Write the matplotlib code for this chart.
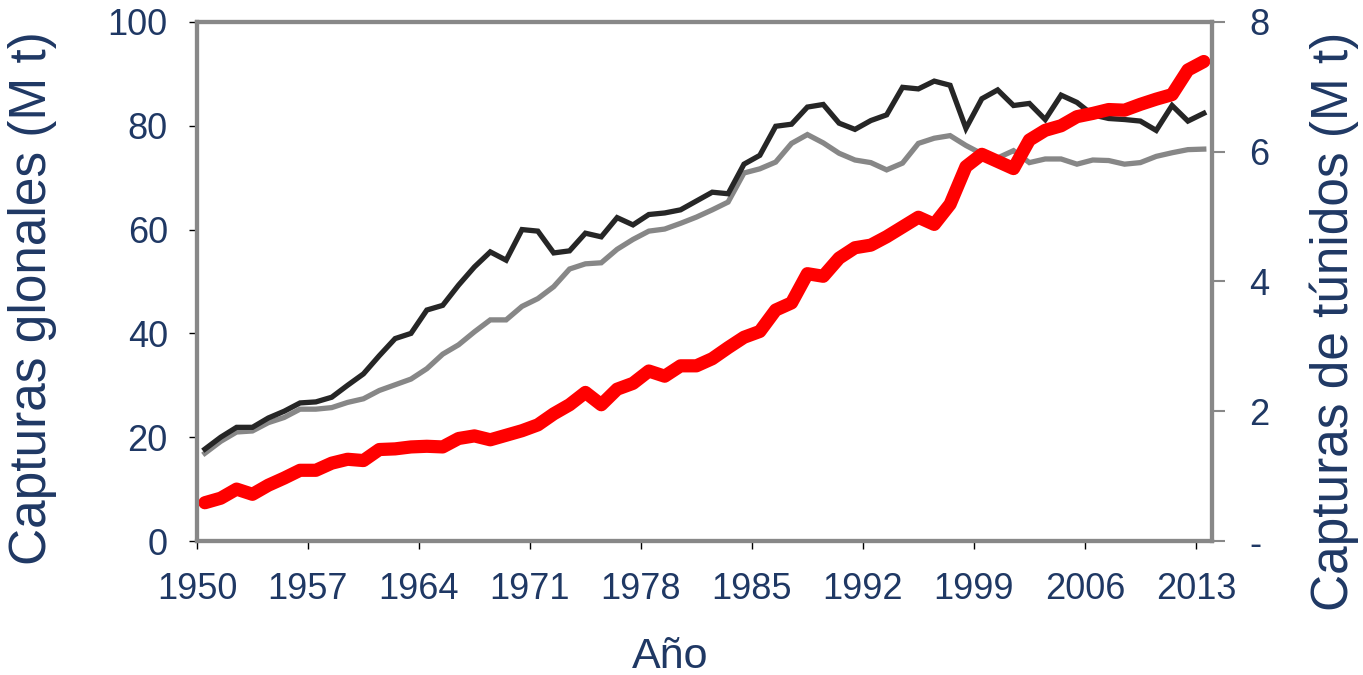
import matplotlib
matplotlib.use("Agg")
import matplotlib.pyplot as plt
import numpy as np

plt.rcParams['font.family'] = ['Liberation Sans', 'DejaVu Sans']

# data
years = np.arange(1950, 2014)

capturas_total = [17.7, 20.0, 21.9, 21.9, 23.7, 25.0, 26.6, 26.8, 27.7, 30.0,
                  32.2, 35.7, 39.0, 40.0, 44.5, 45.4, 49.3, 52.8, 55.7, 54.1,
                  60.0, 59.7, 55.5, 55.9, 59.3, 58.6, 62.3, 60.9, 62.9, 63.2,
                  63.8, 65.5, 67.2, 66.9, 72.6, 74.3, 79.9, 80.3, 83.6, 84.1,
                  80.5, 79.3, 81.0, 82.1, 87.4, 87.1, 88.6, 87.8, 79.5, 85.2,
                  86.9, 83.9, 84.3, 81.2, 85.9, 84.5, 82.1, 81.4, 81.2, 80.9,
                  79.1, 83.9, 80.9, 82.4]

capturas_marinas = [16.9, 19.2, 21.0, 21.2, 22.8, 23.8, 25.4, 25.4, 25.7, 26.7,
                    27.4, 29.0, 30.1, 31.2, 33.2, 36.0, 37.8, 40.3, 42.6, 42.6,
                    45.2, 46.7, 49.0, 52.4, 53.4, 53.6, 56.2, 58.1, 59.7, 60.1,
                    61.2, 62.4, 63.8, 65.3, 70.9, 71.7, 73.0, 76.6, 78.3, 76.7,
                    74.7, 73.4, 72.9, 71.5, 72.8, 76.6, 77.6, 78.1, 76.2, 74.6,
                    73.8, 75.2, 72.9, 73.6, 73.6, 72.6, 73.4, 73.3, 72.6, 72.9,
                    74.1, 74.8, 75.4, 75.5]

capturas_tunidos = [0.59, 0.66, 0.80, 0.72, 0.86, 0.97, 1.09, 1.09, 1.20, 1.26,
                    1.24, 1.41, 1.42, 1.45, 1.46, 1.45, 1.58, 1.62, 1.56, 1.63,
                    1.70, 1.79, 1.96, 2.10, 2.29, 2.10, 2.34, 2.43, 2.62, 2.54,
                    2.70, 2.70, 2.81, 2.98, 3.14, 3.23, 3.56, 3.67, 4.12, 4.08,
                    4.36, 4.52, 4.56, 4.69, 4.84, 4.99, 4.88, 5.19, 5.77, 5.96,
                    5.85, 5.74, 6.18, 6.33, 6.40, 6.54, 6.59, 6.65, 6.64, 6.73,
                    6.81, 6.88, 7.26, 7.39]

tick_years = np.arange(1950, 2014, 7)
left_ticks = [0, 20, 40, 60, 80, 100]
right_ticks = [0, 2, 4, 6, 8]
right_labels = ['-', '2', '4', '6', '8']

navy = '#1f3864'
frame = '#888888'

fig = plt.figure(figsize=(13.63, 6.75), dpi=100)
ax = fig.add_axes([0.1445, 0.1985, 0.7445, 0.769])
ax2 = ax.twinx()

x = years + 0.5  # points sit in the middle of each year's slot
ax.plot(x, capturas_marinas, color='#878787', lw=3.8, solid_joinstyle='miter')
ax.plot(x, capturas_total, color='#262626', lw=3.8, solid_joinstyle='miter')
ax2.plot(x, capturas_tunidos, color='#ff0000', lw=9.5,
         solid_capstyle='round', solid_joinstyle='round')

ax.set_xlim(1950, 2014)
ax.set_ylim(0, 100)
ax2.set_ylim(0, 8)

ax.set_xticks(tick_years)
ax.set_xticklabels([str(t) for t in tick_years])
ax.set_yticks(left_ticks)
ax2.set_yticks(right_ticks)
ax2.set_yticklabels(right_labels)

for a in (ax, ax2):
    for s in a.spines.values():
        s.set_color(frame)
        s.set_linewidth(3)

ax.tick_params(axis='x', direction='out', length=6, width=1, color='black',
               labelsize=26, labelcolor=navy, pad=16)
ax.tick_params(axis='y', direction='out', length=6, width=1, color='black',
               labelsize=26, labelcolor=navy, pad=15)
ax2.tick_params(axis='y', direction='out', length=9, width=1.5, color=frame,
                labelsize=26, labelcolor=navy, pad=18)

ax.set_xlabel('Año', fontsize=31, color=navy, va='center')
ax.xaxis.set_label_coords(0.466, -0.2235)
ax.set_ylabel('Capturas glonales (M t)', fontsize=37, color=navy, va='center')
ax.yaxis.set_label_coords(-0.162, 0.468)
ax2.set_ylabel('Capturas de túnidos (M t)', fontsize=37, color=navy, va='center')
ax2.yaxis.set_label_coords(1.121, 0.424)

fig.savefig('out.png', dpi=100)
